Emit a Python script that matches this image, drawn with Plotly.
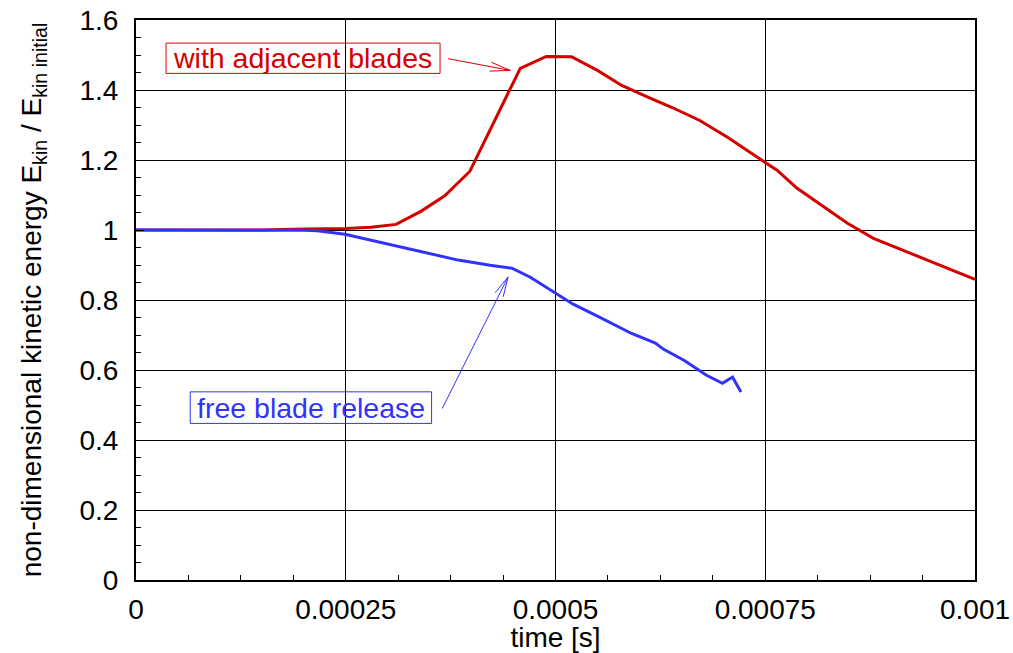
import math
import plotly.graph_objects as go

# ---- data ---------------------------------------------------------------
t_adjacent = [0, 0.00005, 0.00010, 0.00015, 0.00020, 0.00025, 0.00028, 0.00031,
              0.00034, 0.000368, 0.000398, 0.000458, 0.000489, 0.000519, 0.00055,
              0.000579, 0.000608, 0.000639, 0.000672, 0.000705, 0.000746, 0.000764,
              0.000788, 0.000818, 0.000848, 0.000879, 0.00092, 0.00096, 0.001]
e_adjacent = [1.0, 1.0, 1.0, 1.0, 1.003, 1.004, 1.008, 1.016,
              1.054, 1.098, 1.168, 1.462, 1.496, 1.495, 1.456,
              1.413, 1.382, 1.350, 1.313, 1.265, 1.199, 1.171,
              1.119, 1.069, 1.019, 0.976, 0.936, 0.898, 0.859]

t_free = [0, 0.00005, 0.0001, 0.00015, 0.0002, 0.000216, 0.000249, 0.000311,
          0.000384, 0.000422, 0.000448, 0.00047, 0.000509, 0.000521, 0.00055,
          0.00059, 0.000619, 0.000629, 0.000653, 0.00068, 0.000699, 0.000711,
          0.000721]
e_free = [1.0, 0.999, 1.0, 0.999, 0.999, 0.998, 0.988, 0.954,
          0.914, 0.899, 0.891, 0.865, 0.808, 0.788, 0.754,
          0.705, 0.677, 0.659, 0.628, 0.585, 0.562, 0.580,
          0.537]

x_tickvals = [0, 0.00025, 0.0005, 0.00075, 0.001]
x_ticktext = ["0", "0.00025", "0.0005", "0.00075", "0.001"]
y_tickvals = [0, 0.2, 0.4, 0.6, 0.8, 1.0, 1.2, 1.4, 1.6]
y_ticktext = ["0", "0.2", "0.4", "0.6", "0.8", "1", "1.2", "1.4", "1.6"]

RED = "#d40000"
BLUE = "#3232ff"
FONT = "Liberation Sans, Arial, sans-serif"

# ---- layout geometry ----------------------------------------------------
W, H = 1013, 653
ML, MR, MT, MB = 136, 38, 20, 73
X_RANGE = [0, 0.001]
Y_RANGE = [0, 1.6]
px_per_x = (W - ML - MR) / (X_RANGE[1] - X_RANGE[0])
px_per_y = (H - MT - MB) / (Y_RANGE[1] - Y_RANGE[0])

fig = go.Figure()
fig.add_trace(go.Scatter(x=t_adjacent, y=e_adjacent, mode="lines",
                         line=dict(color=RED, width=3), showlegend=False))
fig.add_trace(go.Scatter(x=t_free, y=e_free, mode="lines",
                         line=dict(color=BLUE, width=3), showlegend=False))


def arrow_shapes(tail, tip, color, head_len=20, head_half=4.5):
    """Thin shaft with an open V head, sized in screen pixels."""
    dx = (tip[0] - tail[0]) * px_per_x
    dy = (tip[1] - tail[1]) * px_per_y
    n = math.hypot(dx, dy)
    ux, uy = dx / n, dy / n
    shapes = [dict(type="line", xref="x", yref="y", x0=tail[0], y0=tail[1],
                   x1=tip[0], y1=tip[1], line=dict(color=color, width=1))]
    for s in (1, -1):
        bx = -ux * head_len + s * (-uy) * head_half
        by = -uy * head_len + s * ux * head_half
        shapes.append(dict(type="line", xref="x", yref="y",
                           x0=tip[0] + bx / px_per_x, y0=tip[1] + by / px_per_y,
                           x1=tip[0], y1=tip[1], line=dict(color=color, width=1)))
    return shapes


shapes = []
shapes += arrow_shapes((0.000372, 1.4895), (0.000446, 1.456), RED)
shapes += arrow_shapes((0.000365, 0.490), (0.0004435, 0.866), BLUE)
# label frames
shapes.append(dict(type="rect", xref="x", yref="y", x0=0.0000358, x1=0.0003624,
                   y0=1.4475, y1=1.534, line=dict(color=RED, width=1),
                   fillcolor="rgba(0,0,0,0)"))
shapes.append(dict(type="rect", xref="x", yref="y", x0=0.0000646, x1=0.0003523,
                   y0=0.4474, y1=0.5376, line=dict(color=BLUE, width=1),
                   fillcolor="rgba(0,0,0,0)"))

annotations = [
    dict(x=0.000199, y=1.491, xref="x", yref="y", text="with adjacent blades",
         showarrow=False, font=dict(family=FONT, size=28.5, color=RED),
         xanchor="center", yanchor="middle"),
    dict(x=0.0002086, y=0.492, xref="x", yref="y", text="free blade release",
         showarrow=False, font=dict(family=FONT, size=28.5, color=BLUE),
         xanchor="center", yanchor="middle"),
]

axis_common = dict(
    showline=True, linecolor="black", linewidth=2, mirror=True,
    showgrid=True, gridcolor="black", gridwidth=1,
    ticks="inside", ticklen=8, tickcolor="black", tickwidth=1,
    zeroline=False, tickfont=dict(family=FONT, size=28, color="black"),
)

fig.update_layout(
    width=W, height=H,
    margin=dict(l=ML, r=MR, t=MT, b=MB, autoexpand=False),
    paper_bgcolor="white", plot_bgcolor="white",
    font=dict(family=FONT, color="black"),
    shapes=shapes,
    annotations=annotations,
    xaxis=dict(
        range=X_RANGE, tickvals=x_tickvals, ticktext=x_ticktext,
        minor=dict(ticks="inside", ticklen=5, tickcolor="black", dtick=0.0000625,
                   showgrid=False),
        ticklabelstandoff=3,
        title=dict(text="time [s]", font=dict(family=FONT, size=28), standoff=1),
        **axis_common,
    ),
    yaxis=dict(
        range=Y_RANGE, tickvals=y_tickvals, ticktext=y_ticktext,
        minor=dict(ticks="inside", ticklen=5, tickcolor="black", dtick=0.05,
                   showgrid=False),
        ticklabelstandoff=10,
        title=dict(text="non-dimensional kinetic energy E<sub>kin</sub> / E<sub>kin initial</sub>",
                   font=dict(family=FONT, size=28), standoff=30),
        **axis_common,
    ),
)

fig.write_html("out.html")
